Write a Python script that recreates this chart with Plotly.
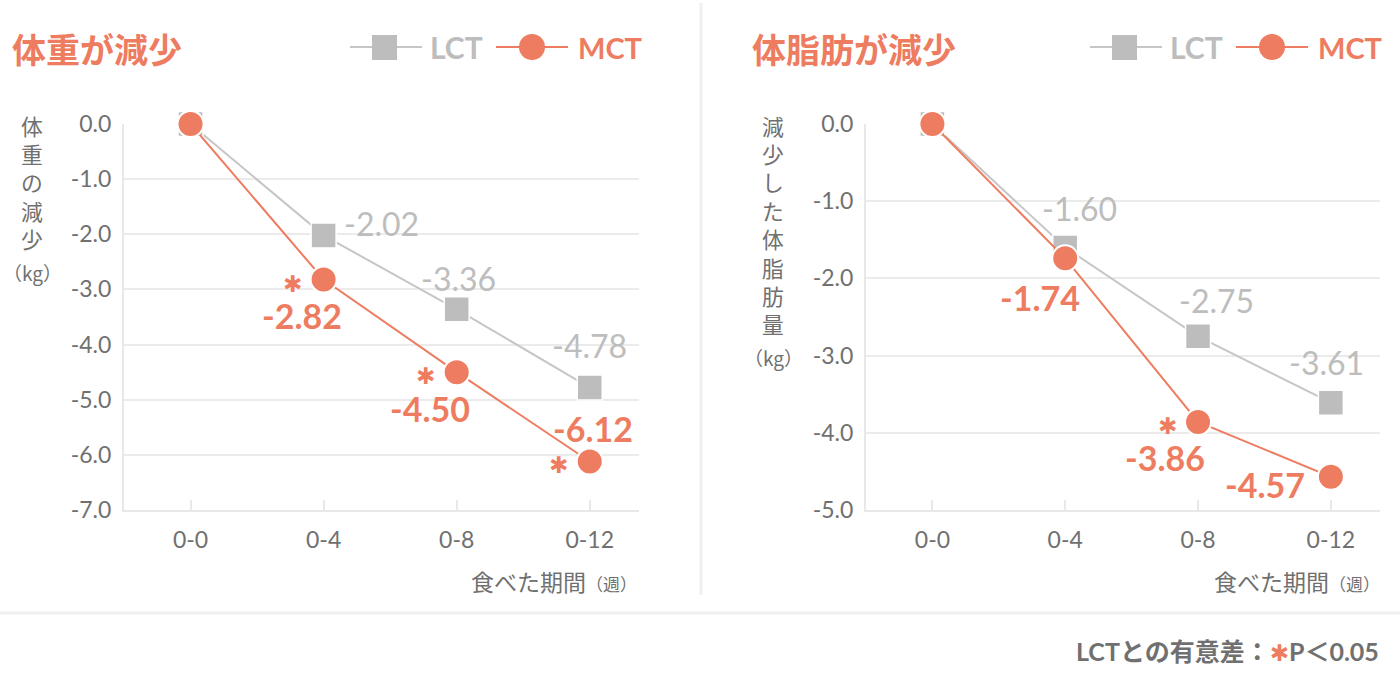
import plotly.graph_objects as go

# ---------------- data ----------------
periods = ["0-0", "0-4", "0-8", "0-12"]
lct_weight = [0.0, -2.02, -3.36, -4.78]
mct_weight = [0.0, -2.82, -4.50, -6.12]
lct_fat = [0.0, -1.60, -2.75, -3.61]
mct_fat = [0.0, -1.74, -3.86, -4.57]
sig_weight = [False, True, True, True]
sig_fat = [False, False, True, False]

weight_ticks = [0, -1, -2, -3, -4, -5, -6, -7]
weight_ticktext = ["0.0", "-1.0", "-2.0", "-3.0", "-4.0", "-5.0", "-6.0", "-7.0"]
fat_ticks = [0, -1, -2, -3, -4, -5]
fat_ticktext = ["0.0", "-1.0", "-2.0", "-3.0", "-4.0", "-5.0"]

title_left = "体重が減少"
title_right = "体脂肪が減少"
ytitle_left = "体重の減少"
ytitle_right = "減少した体脂肪量"
ytitle_unit = "（kg）"
xtitle_main = "食べた期間"
xtitle_unit = "（週）"
footnote_pre = "LCTとの有意差："
footnote_post = "P＜0.05"
series_names = ["LCT", "MCT"]

# ---------------- style ----------------
W, H = 1400, 674
ORANGE = "#ee7c60"
GRAY_M = "#bdbdbd"
GRAY_L = "#c6c6c6"
TXT = "#707070"
GRID = "#ebebeb"
FONT = "Lato, 'Noto Sans CJK JP', sans-serif"
CJK = "'Noto Sans CJK JP', sans-serif"
STAR = "✱"
STAR_FONT = "'DejaVu Sans', sans-serif"


def px(x):
    return x / W


def py(y):
    return 1 - y / H


fig = go.Figure()

panels = [
    dict(xa="x", ya="y", lct=lct_weight, mct=mct_weight, sig=sig_weight),
    dict(xa="x2", ya="y2", lct=lct_fat, mct=mct_fat, sig=sig_fat),
]

for p in panels:
    fig.add_trace(go.Scatter(
        x=periods, y=p["lct"], xaxis=p["xa"], yaxis=p["ya"], mode="lines+markers",
        name=series_names[0], cliponaxis=False,
        line=dict(color=GRAY_L, width=2),
        marker=dict(symbol="square", size=25, color=GRAY_M, line=dict(color="white", width=1.5)),
    ))
    fig.add_trace(go.Scatter(
        x=periods, y=p["mct"], xaxis=p["xa"], yaxis=p["ya"], mode="lines+markers",
        name=series_names[1], cliponaxis=False,
        line=dict(color=ORANGE, width=2),
        marker=dict(symbol="circle", size=26, color=ORANGE, line=dict(color="white", width=2)),
    ))

ydom = [py(510), py(124)]
common_x = dict(
    type="category", range=[-0.5, 3.37], showline=True, linecolor="#e8e8e8", linewidth=2,
    ticks="inside", ticklen=10, tickcolor="#e8e8e8", tickwidth=2, showgrid=False,
    tickfont=dict(family=FONT, size=23, color=TXT), ticklabelstandoff=8, fixedrange=True,
    automargin=False,
)
common_y = dict(
    showgrid=True, gridcolor=GRID, gridwidth=2, showline=True, linecolor="#e8e8e8",
    linewidth=2, zeroline=False, ticks="", tickmode="array",
    tickfont=dict(family=FONT, size=23, color=TXT), ticklabelstandoff=6, domain=ydom,
    automargin=False,
)

fig.update_layout(
    width=W, height=H, autosize=False,
    margin=dict(l=0, r=0, t=0, b=0, pad=0, autoexpand=False),
    paper_bgcolor="white", plot_bgcolor="white", showlegend=False,
    xaxis=dict(common_x, domain=[px(124), px(639)], anchor="y"),
    xaxis2=dict(common_x, domain=[px(866), px(1380)], anchor="y2"),
    yaxis=dict(common_y, range=[-7, 0], tickvals=weight_ticks, ticktext=weight_ticktext, anchor="x"),
    yaxis2=dict(common_y, range=[-5, 0], tickvals=fat_ticks, ticktext=fat_ticktext, anchor="x2"),
)

ann = []
shapes = []

# value-label offsets (pixels) per panel/point
lct_off = [
    [None, (58, 12), (2, 31), (0, 42)],
    [None, (14, 39), (18, 36), (-4, 40)],
]
mct_off = [
    [None, (-22, -36), (-27, -36), (3, 33)],
    [None, (-25, -39), (-33, -36), (-66, -8)],
]
star_off = (-31, -4)

for i, p in enumerate(panels):
    for j, cat in enumerate(periods):
        if lct_off[i][j] is not None:
            dx, dy = lct_off[i][j]
            ann.append(dict(x=cat, y=p["lct"][j], xref=p["xa"], yref=p["ya"], xshift=dx, yshift=dy,
                            text=f"{p['lct'][j]:.2f}", showarrow=False,
                            font=dict(family=FONT, size=32, color=GRAY_M)))
        if mct_off[i][j] is not None:
            dx, dy = mct_off[i][j]
            ann.append(dict(x=cat, y=p["mct"][j], xref=p["xa"], yref=p["ya"], xshift=dx, yshift=dy,
                            text=f"{p['mct'][j]:.2f}", showarrow=False,
                            font=dict(family=FONT, size=34, color=ORANGE, weight="bold")))
        if p["sig"][j]:
            ann.append(dict(x=cat, y=p["mct"][j], xref=p["xa"], yref=p["ya"],
                            xshift=star_off[0], yshift=star_off[1],
                            text=STAR, showarrow=False,
                            font=dict(family=STAR_FONT, size=23, color=ORANGE)))

# panel titles, legends, axis titles
for k, (title, ytitle, ycx) in enumerate([(title_left, ytitle_left, 32), (title_right, ytitle_right, 773)]):
    sx = 740 * k
    ann.append(dict(x=px(10 + sx), y=py(48), xref="paper", yref="paper", xanchor="left", yanchor="middle",
                    text=title, showarrow=False,
                    font=dict(family=CJK, size=34, color=ORANGE, weight="bold")))
    # legend LCT
    shapes.append(dict(type="line", xref="paper", yref="paper", x0=px(350 + sx), x1=px(422 + sx),
                       y0=py(47), y1=py(47), line=dict(color=GRAY_L, width=2)))
    shapes.append(dict(type="rect", xref="paper", yref="paper", x0=px(372 + sx), x1=px(397 + sx),
                       y0=py(35), y1=py(60), fillcolor=GRAY_M, line=dict(width=0)))
    ann.append(dict(x=px(428 + sx), y=py(47), xref="paper", yref="paper", xanchor="left", yanchor="middle",
                    text=series_names[0], showarrow=False,
                    font=dict(family=FONT, size=30, color=GRAY_M, weight="bold")))
    # legend MCT
    shapes.append(dict(type="line", xref="paper", yref="paper", x0=px(496 + sx), x1=px(568 + sx),
                       y0=py(47), y1=py(47), line=dict(color=ORANGE, width=2)))
    shapes.append(dict(type="circle", xref="paper", yref="paper", x0=px(519 + sx), x1=px(545 + sx),
                       y0=py(34), y1=py(60), fillcolor=ORANGE, line=dict(width=0)))
    ann.append(dict(x=px(576 + sx), y=py(47), xref="paper", yref="paper", xanchor="left", yanchor="middle",
                    text=series_names[1], showarrow=False,
                    font=dict(family=FONT, size=29, color=ORANGE, weight="bold")))
    # vertical y-axis title
    for c, ch in enumerate(ytitle):
        ann.append(dict(x=px(ycx), y=py(125 + 28.4 * c), xref="paper", yref="paper",
                        xanchor="center", yanchor="middle", text=ch, showarrow=False,
                        font=dict(family=CJK, size=21.8, color=TXT)))
    ann.append(dict(x=px(ycx), y=py(125 + 28.4 * (len(ytitle) - 1) + 34), xref="paper", yref="paper",
                    xanchor="center", yanchor="middle", text=ytitle_unit, showarrow=False,
                    font=dict(family=CJK, size=19, color=TXT)))
    # x-axis title
    xr = 639 if k == 0 else 1382
    ann.append(dict(x=px(xr), y=py(581), xref="paper", yref="paper", xanchor="right", yanchor="middle",
                    text=f"{xtitle_main}<span style='font-size:17px'>{xtitle_unit}</span>",
                    showarrow=False, font=dict(family=CJK, size=23, color=TXT)))

# dividers
shapes.append(dict(type="line", xref="paper", yref="paper", x0=px(701), x1=px(701), y0=py(3), y1=py(595),
                   line=dict(color="#f0f0f0", width=3)))
shapes.append(dict(type="line", xref="paper", yref="paper", x0=0, x1=1, y0=py(613), y1=py(613),
                   line=dict(color="#f0f0f0", width=3)))

# footnote
ann.append(dict(x=px(1381), y=py(651), xref="paper", yref="paper", xanchor="right", yanchor="middle",
                text=f"{footnote_pre}<span style='color:{ORANGE};font-family:DejaVu Sans;font-size:23px'>{STAR}</span>{footnote_post}",
                showarrow=False, font=dict(family=FONT, size=25, color=TXT, weight="bold")))

fig.update_layout(annotations=ann, shapes=shapes)
fig.write_html("out.html")
